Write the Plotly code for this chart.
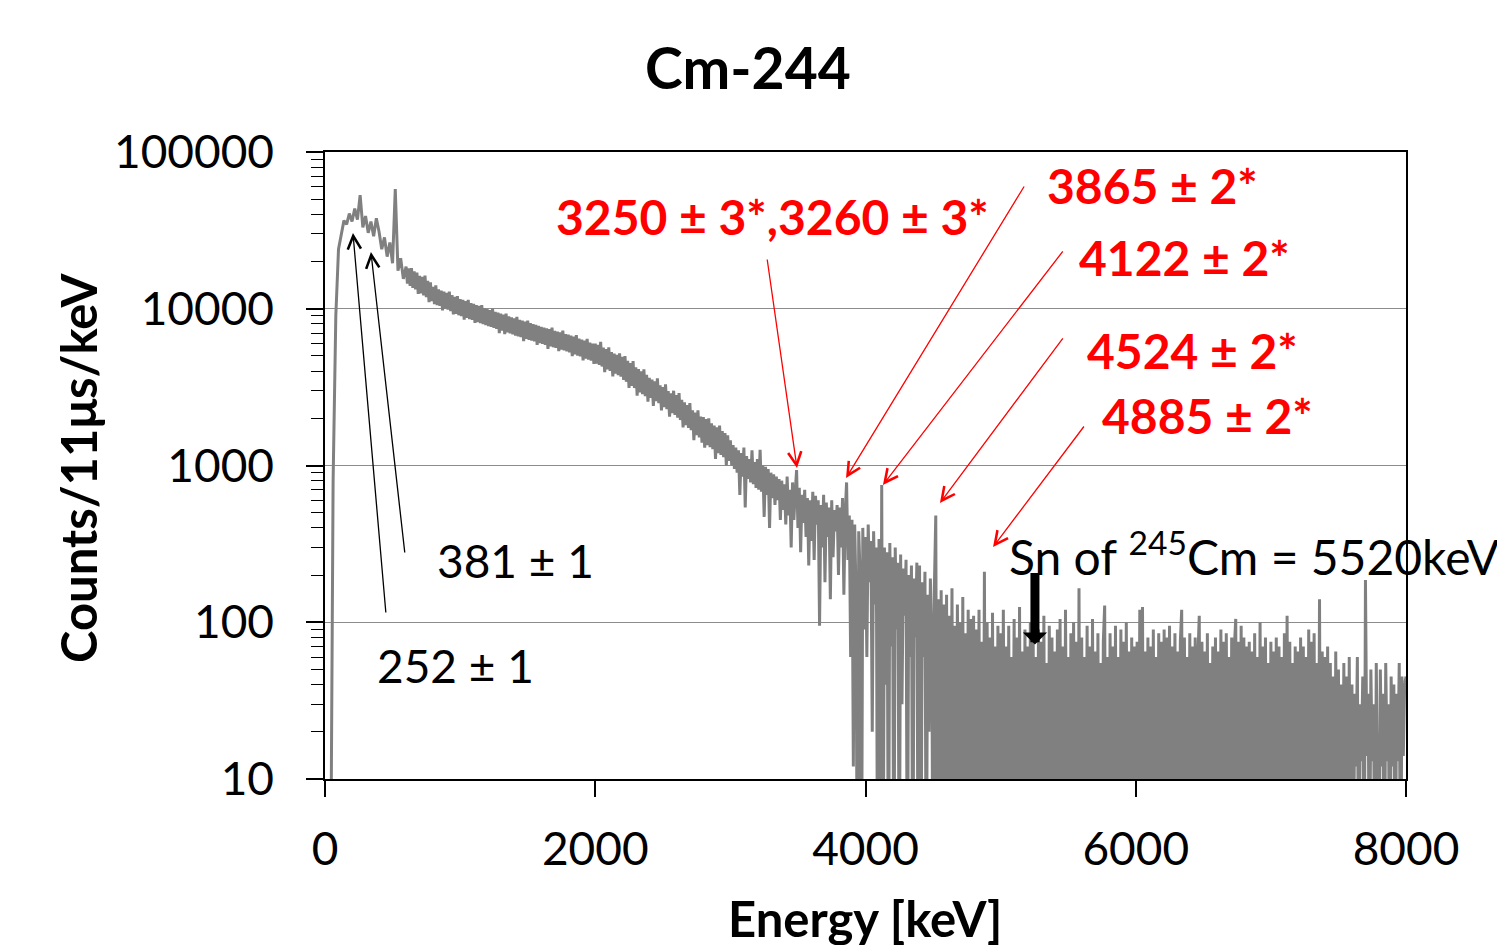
import math
import plotly.graph_objects as go

# bin energies in keV: 20 keV bins below 600 keV, 10 keV bins above
energy_low = list(range(0, 600, 20))
energy_mid = list(range(600, 3000, 10))
energy_high = list(range(3000, 8001, 10))

# counts per 11 us per keV (values < 10 sit below the axis)
counts_low = [
    1, 1, 1, 800, 9000, 24000, 30000, 36500, 34500, 40500,
    36000, 43500, 37000, 53000, 33000, 39000, 30500, 36000, 29000, 37800,
    31000, 24000, 28500, 21500, 26500, 19500, 58000, 17500, 21000, 15500,
]
counts_mid = [
    18600, 14450, 18080, 13970, 18180, 13590, 17350, 13300, 17030, 12440, 16200, 12540, 15990, 12150, 16300, 11870, 15050, 11000, 14730, 11200,
    13790, 10720, 14110, 10530, 13270, 10430, 13060, 9760, 12850, 10050, 12640, 9860, 12850, 9670, 12230, 9190, 11910, 9280, 12020, 9090,
    11500, 8980, 11390, 8520, 11180, 8730, 11390, 8600, 10870, 8480, 10760, 8130, 10550, 8230, 10450, 8110, 10550, 7980, 10080, 7860,
    9930, 7750, 9810, 7660, 10030, 7550, 9560, 7450, 9440, 6990, 9310, 7260, 9190, 6890, 9300, 7060, 8930, 6970, 8810, 6870,
    8690, 6750, 8880, 6670, 8500, 6580, 8390, 6220, 8290, 6430, 8410, 6340, 8090, 6270, 7980, 6190, 7890, 5890, 7790, 6030,
    7670, 5960, 7590, 5890, 7490, 5550, 7410, 5750, 7580, 5680, 7230, 5620, 7150, 5360, 7060, 5480, 7260, 5420, 6900, 5350,
    6830, 5260, 6740, 4980, 6650, 5110, 6790, 5030, 6460, 4960, 6360, 4690, 6270, 4800, 6430, 4740, 6080, 4660, 6000, 4450,
    6000, 4460, 5890, 4380, 6140, 4280, 5650, 3940, 5530, 4110, 5670, 4020, 5290, 3700, 5180, 3850, 5080, 3770, 5200, 3690,
    4940, 3520, 4990, 3420, 4650, 3130, 4510, 3220, 4630, 3120, 4230, 2790, 4120, 2930, 3990, 2850, 4110, 2770, 3790, 2550,
    3620, 2700, 3530, 2400, 3440, 2570, 3600, 2500, 3250, 2250, 3160, 2360, 3300, 2290, 2980, 2050, 2890, 2160, 3000, 2100,
    2810, 2020, 2900, 1950, 2620, 1750, 2530, 1810, 2430, 1740, 2500, 1680, 2250, 1450, 2180, 1560, 2250, 1510, 2050, 1400,
    2040, 1300, 1980, 1350, 2000, 1310, 1860, 1270, 1800, 1100, 1750, 1200, 1800, 1170, 1660, 1130, 1610, 1000, 1560, 1070,
]
counts_high = [
    1450, 1000, 1350, 950, 1300, 900, 1250, 650, 1200, 850, 1300, 540, 1150, 820, 1100, 780, 1250, 760, 1050, 720,
    1100, 700, 1260, 680, 1000, 470, 980, 650, 950, 400, 900, 620, 880, 560, 850, 600, 820, 450, 800, 520,
    760, 420, 850, 480, 700, 300, 780, 450, 680, 935, 400, 720, 280, 650, 430, 700, 350, 620, 230, 600,
    330, 680, 250, 640, 420, 600, 95, 560, 300, 650, 180, 580, 350, 540, 140, 600, 260, 520, 380, 560,
    200, 540, 300, 620, 150, 500, 780, 250, 480, 60, 450, 12, 420, 150, 1, 380, 200, 1, 400, 90,
    350, 60, 420, 180, 330, 20, 380, 130, 300, 1, 340, 1, 750, 1, 300, 40, 280, 1, 320, 70,
    260, 1, 300, 90, 240, 1, 270, 30, 220, 110, 250, 1, 200, 60, 230, 1, 190, 80, 240, 1,
    230, 1, 180, 60, 210, 1, 150, 20, 190, 90, 1, 170, 480, 1, 140, 1, 160, 1, 130, 1,
    150, 1, 110, 4, 165, 1, 95, 1, 130, 8, 100, 1, 145, 1, 85, 3, 120, 1, 105, 1,
    110, 1, 90, 2, 120, 1, 75, 1, 210, 1, 100, 5, 80, 1, 115, 1, 70, 2, 95, 1,
    85, 1, 120, 3, 70, 1, 95, 1, 60, 6, 105, 1, 80, 1, 125, 2, 65, 1, 90, 1,
    70, 1, 100, 2, 115, 1, 60, 1, 90, 4, 75, 1, 110, 1, 55, 1, 95, 3, 80, 1,
    65, 1, 90, 2, 105, 1, 70, 1, 120, 5, 60, 1, 85, 1, 100, 2, 75, 1, 165, 1,
    80, 1, 60, 3, 95, 1, 70, 1, 105, 2, 65, 1, 85, 1, 55, 1, 75, 128, 1, 60,
    1, 85, 2, 70, 1, 95, 1, 60, 4, 90, 1, 75, 1, 100, 3, 65, 1, 80, 1, 70,
    1, 75, 2, 120, 1, 125, 1, 65, 3, 80, 1, 70, 1, 90, 2, 60, 1, 85, 1, 75,
    1, 90, 2, 80, 1, 95, 1, 70, 4, 85, 1, 65, 1, 75, 120, 1, 80, 3, 60, 1,
    85, 1, 70, 2, 80, 1, 60, 110, 1, 75, 3, 65, 1, 85, 1, 55, 2, 70, 1, 80,
    1, 65, 2, 90, 1, 75, 1, 85, 3, 60, 1, 80, 1, 70, 105, 1, 75, 2, 95, 1,
    80, 1, 70, 3, 75, 1, 65, 1, 85, 2, 60, 1, 100, 1, 70, 4, 80, 1, 55, 1,
    75, 2, 65, 1, 80, 1, 70, 3, 60, 1, 85, 1, 110, 2, 75, 1, 55, 1, 70, 2,
    65, 1, 80, 2, 70, 1, 60, 1, 90, 3, 75, 1, 85, 1, 55, 2, 140, 1, 65, 1,
    60, 1, 70, 2, 55, 1, 45, 1, 65, 3, 50, 1, 40, 2, 55, 1, 45, 1, 60, 1,
    40, 1, 35, 12, 60, 1, 30, 13, 45, 1, 186, 14, 35, 1, 50, 13, 30, 1, 55, 14,
    1, 50, 12, 35, 1, 55, 13, 30, 1, 45, 12, 40, 1, 35, 13, 55, 1, 45, 14, 40,
    45,
]

xtick_vals = [0, 2000, 4000, 6000, 8000]
ytick_vals = [10, 100, 1000, 10000, 100000]
ytick_text = ["10", "100", "1000", "10000", "100000"]

# red peak labels and where their arrows point (energy, counts)
red_labels = ["3250 ± 3*,3260 ± 3*", "3865 ± 2*", "4122 ± 2*", "4524 ± 2*", "4885 ± 2*"]
red_tip_energy = [3493, 3856, 4129, 4551, 4944]
red_tip_counts = [964, 832, 752, 577, 302]

black_labels = ["252 ± 1", "381 ± 1"]
black_tip_energy = [207, 340]
black_tip_counts = [30400, 23000]

sn_energy = 5254
sn_counts = 72

FONT = "Lato, 'Open Sans', sans-serif"

energy = energy_low + energy_mid + energy_high
counts = counts_low + counts_mid + counts_high

fig = go.Figure()
fig.add_trace(go.Scatter(
    x=energy, y=counts, mode="lines",
    line=dict(color="#808080", width=3),
    showlegend=False, hoverinfo="skip",
))

def px(x):
    # pixel -> paper x
    return (x - 325) / 1081

def py(y):
    # pixel -> paper y
    return (779 - y) / 627

ann = []
# title and axis titles
ann.append(dict(text="<b>Cm-244</b>", x=px(748), y=py(67), font=dict(size=57)))
ann.append(dict(text="<b>Energy [keV]</b>", x=px(865), y=py(918), font=dict(size=49)))
ann.append(dict(text="<b>Counts/11μs/keV</b>", x=px(78), y=py(468), textangle=-90,
                font=dict(size=49)))

# red label text
red_pos = [(772, 217), (1152, 185), (1184, 257), (1192, 350), (1207, 415)]
for lab, (lx, ly) in zip(red_labels, red_pos):
    ann.append(dict(text="<b>%s</b>" % lab, x=px(lx), y=py(ly),
                    font=dict(size=48, color="#ff0000")))
# red arrows
red_tail = [(-30, -210), (179, -293), (181, -235), (124, -166), (92, -122)]
for e, c, (axp, ayp) in zip(red_tip_energy, red_tip_counts, red_tail):
    ann.append(dict(x=e, y=math.log10(c), xref="x", yref="y", text="",
                    showarrow=True, ax=axp, ay=ayp, arrowhead=5, arrowsize=2,
                    arrowwidth=1.3, arrowcolor="#ff0000"))

# black labels
black_pos = [(455, 665), (515, 560)]
for lab, (lx, ly) in zip(black_labels, black_pos):
    ann.append(dict(text=lab, x=px(lx), y=py(ly), font=dict(size=46)))
black_tail = [(33, 381), (34, 302)]
for e, c, (axp, ayp) in zip(black_tip_energy, black_tip_counts, black_tail):
    ann.append(dict(x=e, y=math.log10(c), xref="x", yref="y", text="",
                    showarrow=True, ax=axp, ay=ayp, arrowhead=5, arrowsize=2,
                    arrowwidth=1.3, arrowcolor="black"))

# neutron separation energy marker
ann.append(dict(text="Sn of <sup>245</sup>Cm = 5520keV", x=px(1007), y=py(553),
                xanchor="left", font=dict(size=48)))
ann.append(dict(x=sn_energy, y=math.log10(sn_counts), xref="x", yref="y", text="",
                showarrow=True, ax=0, ay=-73, arrowhead=1, arrowsize=0.45,
                arrowwidth=9, arrowcolor="black"))

for a in ann:
    a.setdefault("xref", "paper")
    a.setdefault("yref", "paper")
    a.setdefault("showarrow", False)
    a.setdefault("xanchor", "center")
    a.setdefault("yanchor", "middle")

fig.update_layout(
    width=1497, height=945,
    margin=dict(l=325, r=91, t=152, b=166),
    paper_bgcolor="white", plot_bgcolor="white",
    font=dict(family=FONT, color="black", size=46),
    annotations=ann,
)
fig.update_xaxes(
    range=[0, 8000], tickvals=xtick_vals, ticks="outside", ticklen=16,
    tickwidth=1.5, tickcolor="black", showline=True, linecolor="black",
    linewidth=1.5, mirror=True, showgrid=False, zeroline=False,
    ticklabelstandoff=13, tickfont=dict(size=46),
)
fig.update_yaxes(
    type="log", range=[1, 5], tickvals=ytick_vals, ticktext=ytick_text,
    ticks="outside", ticklen=17, tickwidth=1.5, tickcolor="black",
    showline=True, linecolor="black", linewidth=1.5, mirror=True,
    showgrid=True, gridcolor="#8c8c8c", gridwidth=1.3, zeroline=False,
    minor=dict(ticks="outside", ticklen=12, tickwidth=1.3, tickcolor="black",
               dtick="D1", showgrid=False),
    ticklabelstandoff=23, tickfont=dict(size=46),
)

fig.write_html("out.html", config={"displayModeBar": False},
               post_script="document.body.style.margin='0';")
